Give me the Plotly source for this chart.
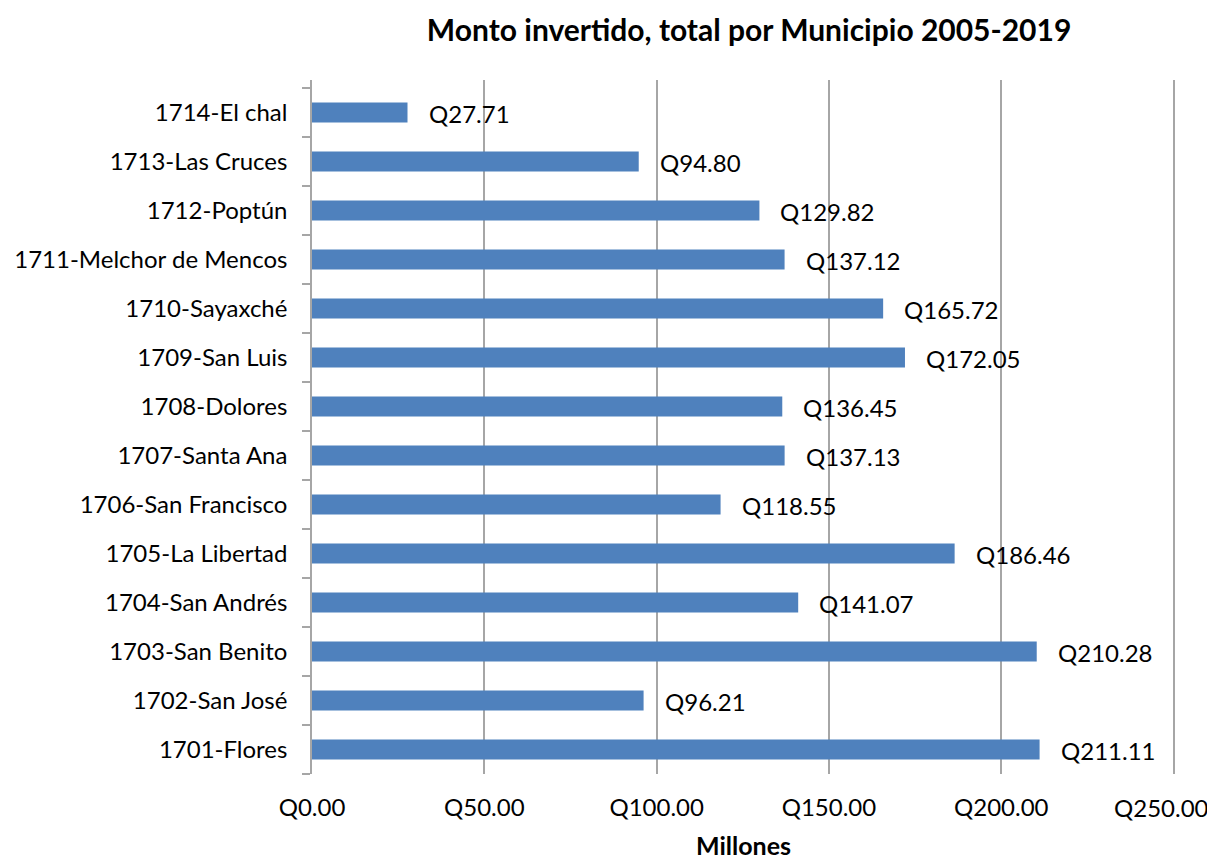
import plotly.graph_objects as go

categories = ["1701-Flores", "1702-San José", "1703-San Benito", "1704-San Andrés",
              "1705-La Libertad", "1706-San Francisco", "1707-Santa Ana", "1708-Dolores",
              "1709-San Luis", "1710-Sayaxché", "1711-Melchor de Mencos", "1712-Poptún",
              "1713-Las Cruces", "1714-El chal"]
values = [211.11, 96.21, 210.28, 141.07, 186.46, 118.55, 137.13, 136.45,
          172.05, 165.72, 137.12, 129.82, 94.80, 27.71]
tick_vals = [0, 50, 100, 150, 200, 250]
tick_text = ["Q0.00", "Q50.00", "Q100.00", "Q150.00", "Q200.00", "Q250.00"]

FONT = "Lato, 'Open Sans', sans-serif"

fig = go.Figure()
fig.add_trace(go.Bar(
    x=values, y=categories, orientation="h",
    marker=dict(color="#4F81BD", line=dict(width=0)),
    hoverinfo="x+y",
))

for c, v in zip(categories, values):
    fig.add_annotation(x=v, y=c, xref="x", yref="y", text=f"Q{v:.2f}",
                       showarrow=False, xanchor="left", xshift=19, yshift=-1,
                       font=dict(family=FONT, size=24, color="#000000"))

# last tick label is pulled left so it fits inside the page (as in the reference)
shown_ticktext = tick_text[:-1] + [""]
fig.add_annotation(x=tick_vals[-1], y=0, xref="x", yref="paper", text=tick_text[-1],
                   showarrow=False, xanchor="right", yanchor="middle",
                   xshift=37, yshift=-33,
                   font=dict(family=FONT, size=24, color="#000000"))

fig.update_layout(
    width=1207, height=852,
    margin=dict(l=304, r=40, t=72, b=86),
    paper_bgcolor="white", plot_bgcolor="white",
    bargap=0.59,
    showlegend=False,
    font=dict(family=FONT, size=24, color="#000000"),
    title=dict(text="<b>Monto invertido, total por Municipio 2005-2019</b>",
               x=0.614, xanchor="center", y=0.974, yanchor="middle",
               font=dict(family=FONT, size=30, color="#000000")),
    xaxis=dict(range=[0, 250.4], tickvals=tick_vals, ticktext=shown_ticktext,
               showgrid=True, gridcolor="#a6a6a6", gridwidth=1.5,
               zeroline=False, showline=False, ticks="",
               automargin=False, ticklabelstandoff=17,
               tickfont=dict(family=FONT, size=24, color="#000000"),
               title=dict(text="<b>Millones</b>", standoff=24,
                          font=dict(family=FONT, size=25, color="#000000"))),
    yaxis=dict(range=[-0.5, 13.663],
               showline=True, linecolor="#a6a6a6", linewidth=1.5,
               ticks="outside", tickson="boundaries", ticklen=8,
               tickcolor="#a6a6a6", tickwidth=1.5,
               showgrid=False, zeroline=False, automargin=False,
               ticklabelstandoff=18,
               tickfont=dict(family=FONT, size=24, color="#000000")),
)

fig.write_html("out.html")
